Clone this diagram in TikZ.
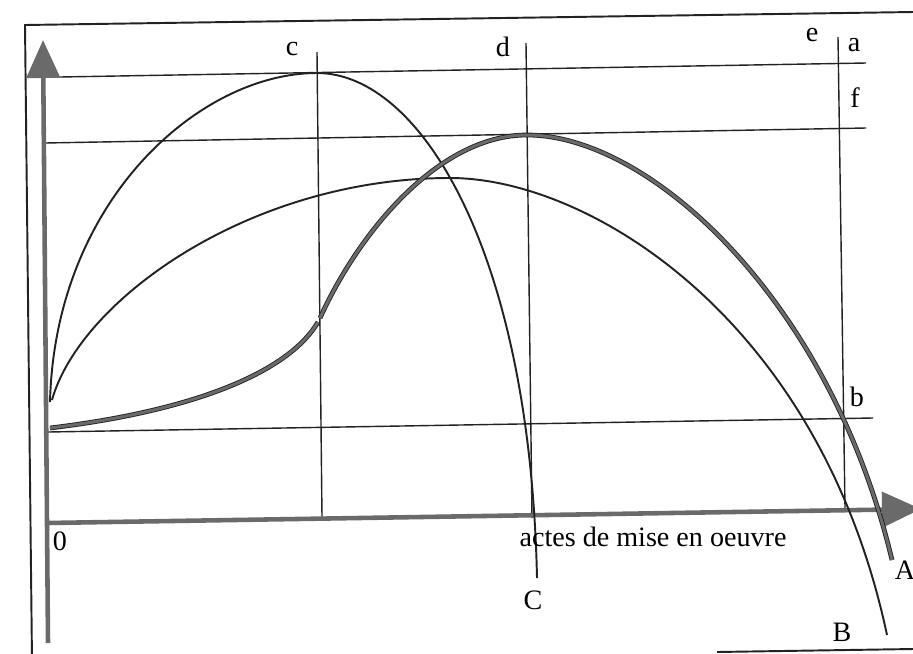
\documentclass[tikz,border=0pt]{standalone}
\usepackage{fontspec}
\setmainfont{Liberation Serif}
\usepackage{tikz}
\usetikzlibrary{arrows.meta}
\definecolor{AxisGray}{HTML}{6A6A6A}
\definecolor{Ink}{HTML}{222222}

\begin{document}
\begin{tikzpicture}[x=0.02cm, y=-0.02cm, every node/.style={font=\fontsize{16}{18}\selectfont, inner sep=1pt},
  axis/.style={AxisGray, line width=2.6pt},
  guide/.style={Ink, line width=0.8pt},
  curve/.style={Ink, line width=1.1pt},
  thickcurve/.style={draw=Ink, double=AxisGray, line width=0.5pt, double distance=1.7pt}]
  \useasboundingbox (0,0) rectangle (913,653);
  \draw[Ink, line width=1.1pt] (913,12) -- (25,25) -- (32,660);
  \draw[Ink, line width=1.1pt] (717,652) -- (913,649);
  \coordinate (ybot) at (48,643);
  \coordinate (ytop) at (43,40);
  \coordinate (xorig) at (47,523);
  \coordinate (xtip) at (921,509);
  \coordinate (h1l) at (60,77);   \coordinate (h1r) at (866,63);
  \coordinate (h2l) at (45,143);  \coordinate (h2r) at (866,128);
  \coordinate (h3l) at (48,432);  \coordinate (h3r) at (873,418);
  \coordinate (ctop) at (317,52); \coordinate (cbot) at (322,517);
  \coordinate (dtop) at (526,43); \coordinate (dbot) at (532,518);
  \coordinate (etop) at (838,37); \coordinate (ebot) at (845,508);
  \foreach \l/\r in {h1l/h1r, h2l/h2r, h3l/h3r, ctop/cbot, dtop/dbot, etop/ebot} {\draw[guide] (\l) -- (\r);}
  \draw[axis, -{Triangle[length=0.76cm, width=0.66cm]}] (ybot) -- (ytop);
  \draw[axis, -{Triangle[length=0.78cm, width=0.70cm]}] (xorig) -- (xtip);
  \draw[curve] (50,402) .. controls (55,200) and (200,73) .. (317,73)
    .. controls (420,73) and (530,250) .. (537,578);
  \draw[curve] (52,400) .. controls (80,300) and (250,178) .. (450,178)
    .. controls (590,178) and (820,320) .. (887,635);
  \draw[thickcurve] (50,428) .. controls (200,410) and (290,370) .. (318,322);
  \draw[thickcurve] (320,318) .. controls (360,230) and (440,135) .. (527,135)
    .. controls (650,135) and (830,300) .. (892,560);
  \node (lc) at (292,49) {c};
  \node (ld) at (503,47) {d};
  \node (le) at (812,35) {e};
  \node (la) at (854,45) {a};
  \node (lf) at (855,98) {f};
  \node (lb) at (857,397) {b};
  \node (lzero) at (60,541) {0};
  \node (lC) at (533,600) {C};
  \node (lB) at (842,632) {B};
  \node (lA) at (905,570) {A};
  \node (lx) at (653,537) {actes de mise en oeuvre};
\end{tikzpicture}
\end{document}
